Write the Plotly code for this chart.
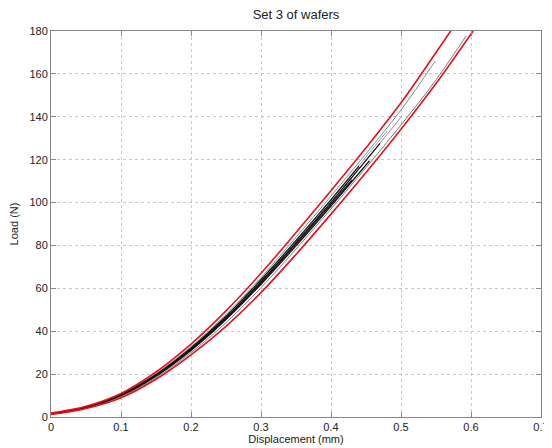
import plotly.graph_objects as go

# Displacement (mm) / Load (N) values
red_upper_x = [0, 0.05, 0.1, 0.15, 0.2, 0.25, 0.3, 0.35, 0.4, 0.45, 0.5, 0.55, 0.571]
red_upper_y = [1.8, 5.0, 11.0, 21.0, 34.0, 49.5, 67, 86, 105.5, 125.5, 146.5, 170, 180]

red_lower_x = [0, 0.05, 0.1, 0.15, 0.2, 0.25, 0.3, 0.35, 0.4, 0.45, 0.5, 0.55, 0.603]
red_lower_y = [1.2, 4.0, 9.0, 17.6, 29.0, 42.3, 58.0, 75.8, 94.6, 114.0, 134.2, 155.5, 180]

gray_a_x = [0, 0.05, 0.1, 0.15, 0.2, 0.25, 0.3, 0.35, 0.4, 0.45, 0.5, 0.549]
gray_a_y = [1.5, 4.7, 10.6, 20.2, 32.8, 47.8, 65, 83.8, 103, 122.8, 143.2, 166]

gray_b_x = [0, 0.05, 0.1, 0.15, 0.2, 0.25, 0.3, 0.35, 0.4, 0.45, 0.5, 0.55, 0.593]
gray_b_y = [1.3, 4.2, 9.6, 18.3, 30, 44, 60.3, 78.3, 97, 116.3, 136.2, 157.2, 177.7]

gray_c_x = [0, 0.05, 0.1, 0.15, 0.2, 0.25, 0.3, 0.35, 0.4, 0.45, 0.5]
gray_c_y = [1.5, 4.5, 10.3, 19.5, 31.7, 46.3, 63.1, 81.3, 100.1, 119.7, 139.8]

gray_d_x = [0, 0.05, 0.1, 0.15, 0.2, 0.25, 0.3, 0.35, 0.4, 0.45, 0.48]
gray_d_y = [1.4, 4.6, 10.5, 19.9, 32.3, 47.1, 64.1, 82.5, 101.6, 121.3, 133.3]

black_1_x = [0, 0.05, 0.1, 0.15, 0.2, 0.25, 0.3, 0.35, 0.4, 0.45, 0.47]
black_1_y = [1.5, 4.5, 10.3, 19.5, 31.7, 46.3, 63.1, 81.3, 100.1, 119.7, 127.6]

black_2_x = [0, 0.05, 0.1, 0.15, 0.2, 0.25, 0.3, 0.35, 0.4, 0.455]
black_2_y = [1.4, 4.4, 10.0, 19.0, 31.0, 45.4, 61.9, 79.8, 98.4, 119.5]

black_3_x = [0, 0.05, 0.1, 0.15, 0.2, 0.25, 0.3, 0.35, 0.4, 0.44]
black_3_y = [1.5, 4.6, 10.5, 19.8, 32.2, 47.0, 64.0, 82.3, 101.3, 117]

black_4_x = [0, 0.05, 0.1, 0.15, 0.2, 0.25, 0.3, 0.35, 0.4, 0.43]
black_4_y = [1.4, 4.5, 10.1, 19.2, 31.3, 45.8, 62.5, 80.6, 99.3, 110.6]

x_ticks = [0, 0.1, 0.2, 0.3, 0.4, 0.5, 0.6, 0.7]
y_ticks = [0, 20, 40, 60, 80, 100, 120, 140, 160, 180]

FONT = "Liberation Sans, Arial, sans-serif"

fig = go.Figure()

grays = [(gray_a_x, gray_a_y, "#8a8a8a"), (gray_b_x, gray_b_y, "#7a7a7a"),
         (gray_c_x, gray_c_y, "#909090"), (gray_d_x, gray_d_y, "#9a9a9a")]
for gx, gy, col in grays:
    fig.add_trace(go.Scatter(x=gx, y=gy, mode="lines",
                             line=dict(color=col, width=1, shape="spline", smoothing=1),
                             showlegend=False, hoverinfo="skip"))

blacks = [(black_1_x, black_1_y), (black_2_x, black_2_y), (black_3_x, black_3_y), (black_4_x, black_4_y)]
for bx, by in blacks:
    fig.add_trace(go.Scatter(x=bx, y=by, mode="lines",
                             line=dict(color="#111111", width=1.2, shape="spline", smoothing=1),
                             showlegend=False, hoverinfo="skip"))

for rx, ry in [(red_upper_x, red_upper_y), (red_lower_x, red_lower_y)]:
    fig.add_trace(go.Scatter(x=rx, y=ry, mode="lines",
                             line=dict(color="#e8111a", width=1.6, shape="spline", smoothing=1),
                             showlegend=False, hoverinfo="skip"))

axis_common = dict(
    showline=True, linecolor="#888888", linewidth=1, mirror="ticks",
    ticks="inside", ticklen=5, tickcolor="#888888",
    showgrid=True, gridcolor="#c8c8c8", griddash="dot", gridwidth=1,
    zeroline=False, automargin=False,
    tickfont=dict(family=FONT, size=11, color="#222222"),
)

# The page body has an 8px default margin, so the figure is sized and
# positioned to land the plot box at x 51..541, y 31..417 in the window.
fig.update_layout(
    width=544, height=440,
    margin=dict(l=43, r=11, t=23, b=31),
    paper_bgcolor="white", plot_bgcolor="white",
    title=dict(text="Set 3 of wafers", x=288 / 544, xanchor="center", y=1 - 6 / 440, yanchor="middle",
               yref="container", font=dict(family=FONT, size=13, color="#222222")),
    xaxis=dict(range=[0, 0.7], tickvals=x_ticks, ticktext=[f"{v:g}" for v in x_ticks],
               title=dict(text="Displacement (mm)", standoff=2,
                          font=dict(family=FONT, size=11, color="#222222")),
               **axis_common),
    yaxis=dict(range=[0, 180], tickvals=y_ticks, ticktext=[str(v) for v in y_ticks],
               title=dict(text="Load (N)", standoff=8,
                          font=dict(family=FONT, size=11, color="#222222")),
               **axis_common),
)

fig.write_html("out.html")
